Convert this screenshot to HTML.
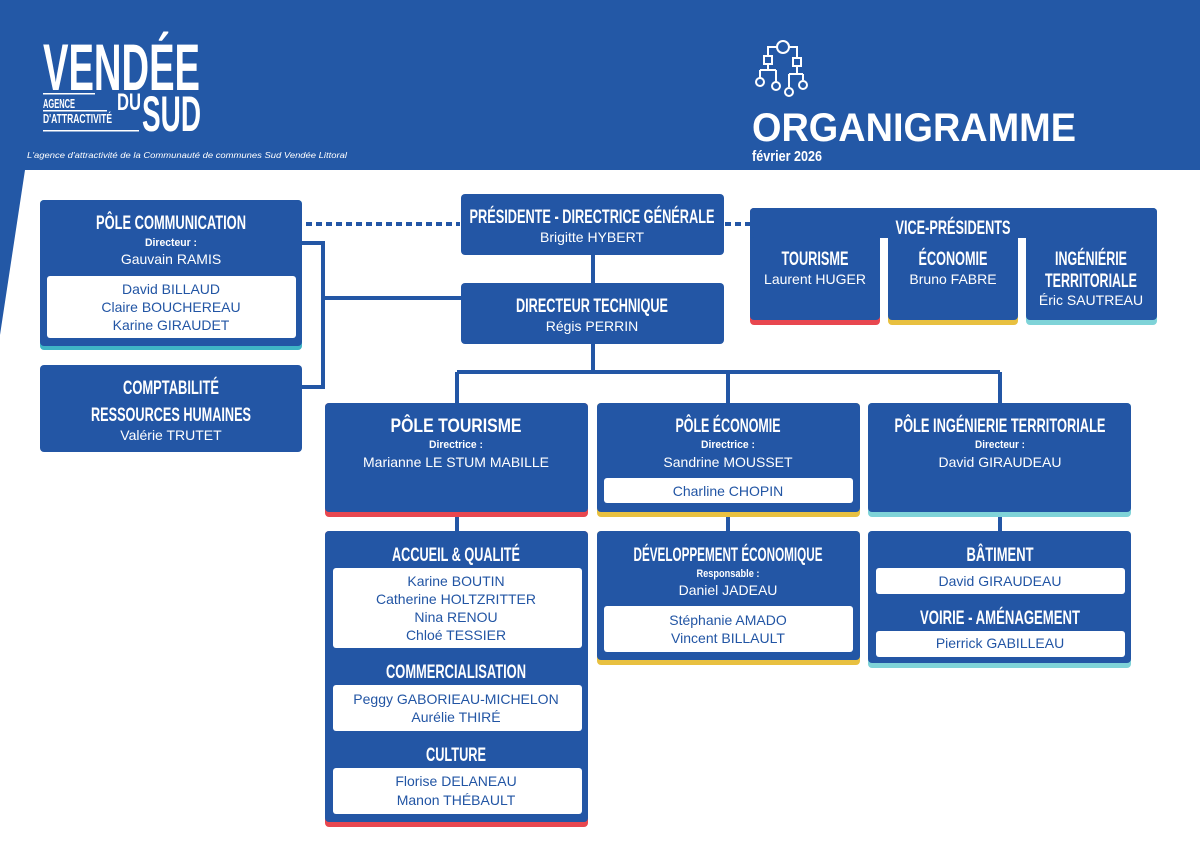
<!DOCTYPE html>
<html><head><meta charset="utf-8"><style>
html,body{margin:0;padding:0;background:#fff;}
svg{display:block}
.t{font-family:"Liberation Sans",sans-serif;font-weight:bold;fill:#fff;text-anchor:middle}
.n{font-family:"Liberation Sans",sans-serif;fill:#fff;font-size:14px;text-anchor:middle}
.b{font-family:"Liberation Sans",sans-serif;fill:#2255a4;font-size:14px;text-anchor:middle}
.s{font-family:"Liberation Sans",sans-serif;font-weight:bold;fill:#fff;font-size:11px;text-anchor:middle}
</style></head><body>
<svg width="1200" height="848" viewBox="0 0 1200 848" xmlns="http://www.w3.org/2000/svg">
<rect x="0" y="0" width="1200" height="848" fill="#2358a6"/>
<polygon points="25,170 1200,170 1200,848 0,848 0,335" fill="#fff"/>

<!-- Logo -->
<text x="43" y="90" class="t" style="text-anchor:start;font-size:66px" textLength="157" lengthAdjust="spacingAndGlyphs">VENDÉE</text>
<text x="142" y="131" class="t" style="text-anchor:start;font-size:50px" textLength="59" lengthAdjust="spacingAndGlyphs">SUD</text>
<text x="117" y="110" class="t" style="text-anchor:start;font-size:24px" textLength="24" lengthAdjust="spacingAndGlyphs">DU</text>
<text x="43" y="108" class="t" style="text-anchor:start;font-size:13px" textLength="32" lengthAdjust="spacingAndGlyphs">AGENCE</text>
<text x="43" y="123" class="t" style="text-anchor:start;font-size:13px" textLength="69" lengthAdjust="spacingAndGlyphs">D'ATTRACTIVITÉ</text>
<rect x="43" y="93" width="52" height="1.5" fill="#fff"/>
<rect x="43" y="110" width="64" height="1.5" fill="#fff"/>
<rect x="43" y="130" width="96" height="1.5" fill="#fff"/>
<text x="27" y="158" style="font-family:'Liberation Sans',sans-serif;font-style:italic;font-size:8px;fill:#fff" textLength="320" lengthAdjust="spacingAndGlyphs">L'agence d'attractivité de la Communauté de communes Sud Vendée Littoral</text>

<!-- icon -->
<g fill="none" stroke="#fff" stroke-width="2">
<circle cx="783" cy="47" r="6"/>
<path d="M777,47 H768 V56 M789,47 H797 V58"/>
<rect x="764" y="56" width="8" height="8"/>
<rect x="793" y="58" width="8" height="8"/>
<path d="M768,64 V70 M760,70 H776 M760,70 V78 M776,70 V82 M797,66 V74 M789,74 H803 M789,74 V87 M803,74 V80"/>
<circle cx="760" cy="82" r="4"/>
<circle cx="776" cy="86" r="4"/>
<circle cx="789" cy="92" r="4"/>
<circle cx="803" cy="85" r="4"/>
</g>
<text x="752" y="141" class="t" style="text-anchor:start;font-size:40px" textLength="324" lengthAdjust="spacingAndGlyphs">ORGANIGRAMME</text>
<text x="752" y="161" class="t" style="text-anchor:start;font-size:15px" textLength="70" lengthAdjust="spacingAndGlyphs">février 2026</text>

<!-- connectors -->
<g stroke="#2356a5" stroke-width="4" fill="none">
<path d="M302,243 H323 V387 H302"/>
<path d="M323,298 H461"/>
<path d="M593,255 V283 M593,344 V372 M457,372 H1000 M457,372 V403 M728,372 V403 M1000,372 V403"/>
<path d="M457,517 V531 M728,517 V531 M1000,517 V531"/>
<path d="M306,224 H460 M725,224 H750" stroke-dasharray="6,4"/>
</g>

<!-- Pôle communication -->
<rect x="40" y="200" width="262" height="150" rx="4" fill="#3fb5c6"/>
<rect x="40" y="200" width="262" height="146" rx="4" fill="#2356a5"/>
<text x="171" y="229" class="t" style="font-size:19px" textLength="150" lengthAdjust="spacingAndGlyphs">PÔLE COMMUNICATION</text>
<text x="171" y="246" class="s" textLength="52" lengthAdjust="spacingAndGlyphs">Directeur :</text>
<text x="171" y="264" class="n">Gauvain RAMIS</text>
<rect x="47" y="276" width="249" height="62" rx="3" fill="#fff"/>
<text x="171" y="294" class="b">David BILLAUD</text>
<text x="171" y="312" class="b">Claire BOUCHEREAU</text>
<text x="171" y="330" class="b">Karine GIRAUDET</text>

<!-- Comptabilité -->
<rect x="40" y="365" width="262" height="87" rx="4" fill="#2356a5"/>
<text x="171" y="394" class="t" style="font-size:19px" textLength="96" lengthAdjust="spacingAndGlyphs">COMPTABILITÉ</text>
<text x="171" y="421" class="t" style="font-size:19px" textLength="160" lengthAdjust="spacingAndGlyphs">RESSOURCES HUMAINES</text>
<text x="171" y="440" class="n">Valérie TRUTET</text>

<!-- Président -->
<rect x="461" y="194" width="263" height="61" rx="4" fill="#2356a5"/>
<text x="592" y="223" class="t" style="font-size:19px" textLength="245" lengthAdjust="spacingAndGlyphs">PRÉSIDENTE - DIRECTRICE GÉNÉRALE</text>
<text x="592" y="242" class="n">Brigitte HYBERT</text>

<!-- Directeur technique -->
<rect x="461" y="283" width="263" height="61" rx="4" fill="#2356a5"/>
<text x="592" y="312" class="t" style="font-size:19px" textLength="152" lengthAdjust="spacingAndGlyphs">DIRECTEUR TECHNIQUE</text>
<text x="592" y="331" class="n">Régis PERRIN</text>

<!-- Vice-présidents -->
<rect x="750" y="208" width="130" height="117" rx="4" fill="#e8474f"/>
<rect x="888" y="208" width="130" height="117" rx="4" fill="#e8c040"/>
<rect x="1026" y="208" width="131" height="117" rx="4" fill="#7fd3d8"/>
<rect x="750" y="208" width="130" height="112" rx="4" fill="#2356a5"/>
<rect x="888" y="208" width="130" height="112" rx="4" fill="#2356a5"/>
<rect x="1026" y="208" width="131" height="112" rx="4" fill="#2356a5"/>
<rect x="750" y="208" width="407" height="30" rx="4" fill="#2356a5"/>
<text x="953" y="234" class="t" style="font-size:19px" textLength="115" lengthAdjust="spacingAndGlyphs">VICE-PRÉSIDENTS</text>
<text x="815" y="265" class="t" style="font-size:19px" textLength="67" lengthAdjust="spacingAndGlyphs">TOURISME</text>
<text x="815" y="284" class="n">Laurent HUGER</text>
<text x="953" y="265" class="t" style="font-size:19px" textLength="69" lengthAdjust="spacingAndGlyphs">ÉCONOMIE</text>
<text x="953" y="284" class="n">Bruno FABRE</text>
<text x="1091" y="265" class="t" style="font-size:19px" textLength="72" lengthAdjust="spacingAndGlyphs">INGÉNIÉRIE</text>
<text x="1091" y="287" class="t" style="font-size:19px" textLength="92" lengthAdjust="spacingAndGlyphs">TERRITORIALE</text>
<text x="1091" y="305" class="n">Éric SAUTREAU</text>

<!-- Pôle tourisme -->
<rect x="325" y="403" width="263" height="114" rx="4" fill="#e8474f"/>
<rect x="325" y="403" width="263" height="109" rx="4" fill="#2356a5"/>
<text x="456" y="432" class="t" style="font-size:19px" textLength="131" lengthAdjust="spacingAndGlyphs">PÔLE TOURISME</text>
<text x="456" y="448" class="s" textLength="54" lengthAdjust="spacingAndGlyphs">Directrice :</text>
<text x="456" y="467" class="n">Marianne LE STUM MABILLE</text>

<!-- Pôle économie -->
<rect x="597" y="403" width="263" height="114" rx="4" fill="#e8c040"/>
<rect x="597" y="403" width="263" height="109" rx="4" fill="#2356a5"/>
<text x="728" y="432" class="t" style="font-size:19px" textLength="105" lengthAdjust="spacingAndGlyphs">PÔLE ÉCONOMIE</text>
<text x="728" y="448" class="s" textLength="54" lengthAdjust="spacingAndGlyphs">Directrice :</text>
<text x="728" y="467" class="n">Sandrine MOUSSET</text>
<rect x="604" y="478" width="249" height="25" rx="3" fill="#fff"/>
<text x="728" y="496" class="b">Charline CHOPIN</text>

<!-- Pôle ingénierie -->
<rect x="868" y="403" width="263" height="114" rx="4" fill="#7fd3d8"/>
<rect x="868" y="403" width="263" height="109" rx="4" fill="#2356a5"/>
<text x="1000" y="432" class="t" style="font-size:19px" textLength="211" lengthAdjust="spacingAndGlyphs">PÔLE INGÉNIERIE TERRITORIALE</text>
<text x="1000" y="448" class="s" textLength="50" lengthAdjust="spacingAndGlyphs">Directeur :</text>
<text x="1000" y="467" class="n">David GIRAUDEAU</text>

<!-- Accueil -->
<rect x="325" y="531" width="263" height="296" rx="4" fill="#e8474f"/>
<rect x="325" y="531" width="263" height="291" rx="4" fill="#2356a5"/>
<text x="456" y="561" class="t" style="font-size:19px" textLength="128" lengthAdjust="spacingAndGlyphs">ACCUEIL &amp; QUALITÉ</text>
<rect x="333" y="568" width="249" height="80" rx="3" fill="#fff"/>
<text x="456" y="586" class="b">Karine BOUTIN</text>
<text x="456" y="604" class="b">Catherine HOLTZRITTER</text>
<text x="456" y="622" class="b">Nina RENOU</text>
<text x="456" y="640" class="b">Chloé TESSIER</text>
<text x="456" y="678" class="t" style="font-size:19px" textLength="140" lengthAdjust="spacingAndGlyphs">COMMERCIALISATION</text>
<rect x="333" y="685" width="249" height="46" rx="3" fill="#fff"/>
<text x="456" y="704" class="b">Peggy GABORIEAU-MICHELON</text>
<text x="456" y="722" class="b">Aurélie THIRÉ</text>
<text x="456" y="761" class="t" style="font-size:19px" textLength="60" lengthAdjust="spacingAndGlyphs">CULTURE</text>
<rect x="333" y="768" width="249" height="46" rx="3" fill="#fff"/>
<text x="456" y="786" class="b">Florise DELANEAU</text>
<text x="456" y="805" class="b">Manon THÉBAULT</text>

<!-- Développement économique -->
<rect x="597" y="531" width="263" height="134" rx="4" fill="#e8c040"/>
<rect x="597" y="531" width="263" height="129" rx="4" fill="#2356a5"/>
<text x="728" y="561" class="t" style="font-size:19px" textLength="189" lengthAdjust="spacingAndGlyphs">DÉVELOPPEMENT ÉCONOMIQUE</text>
<text x="728" y="577" class="s" textLength="63" lengthAdjust="spacingAndGlyphs">Responsable :</text>
<text x="728" y="595" class="n">Daniel JADEAU</text>
<rect x="604" y="606" width="249" height="46" rx="3" fill="#fff"/>
<text x="728" y="625" class="b">Stéphanie AMADO</text>
<text x="728" y="643" class="b">Vincent BILLAULT</text>

<!-- Bâtiment -->
<rect x="868" y="531" width="263" height="137" rx="4" fill="#7fd3d8"/>
<rect x="868" y="531" width="263" height="132" rx="4" fill="#2356a5"/>
<text x="1000" y="561" class="t" style="font-size:19px" textLength="67" lengthAdjust="spacingAndGlyphs">BÂTIMENT</text>
<rect x="876" y="568" width="249" height="26" rx="3" fill="#fff"/>
<text x="1000" y="586" class="b">David GIRAUDEAU</text>
<text x="1000" y="624" class="t" style="font-size:19px" textLength="160" lengthAdjust="spacingAndGlyphs">VOIRIE - AMÉNAGEMENT</text>
<rect x="876" y="631" width="249" height="26" rx="3" fill="#fff"/>
<text x="1000" y="648" class="b">Pierrick GABILLEAU</text>
</svg>
</body></html>
